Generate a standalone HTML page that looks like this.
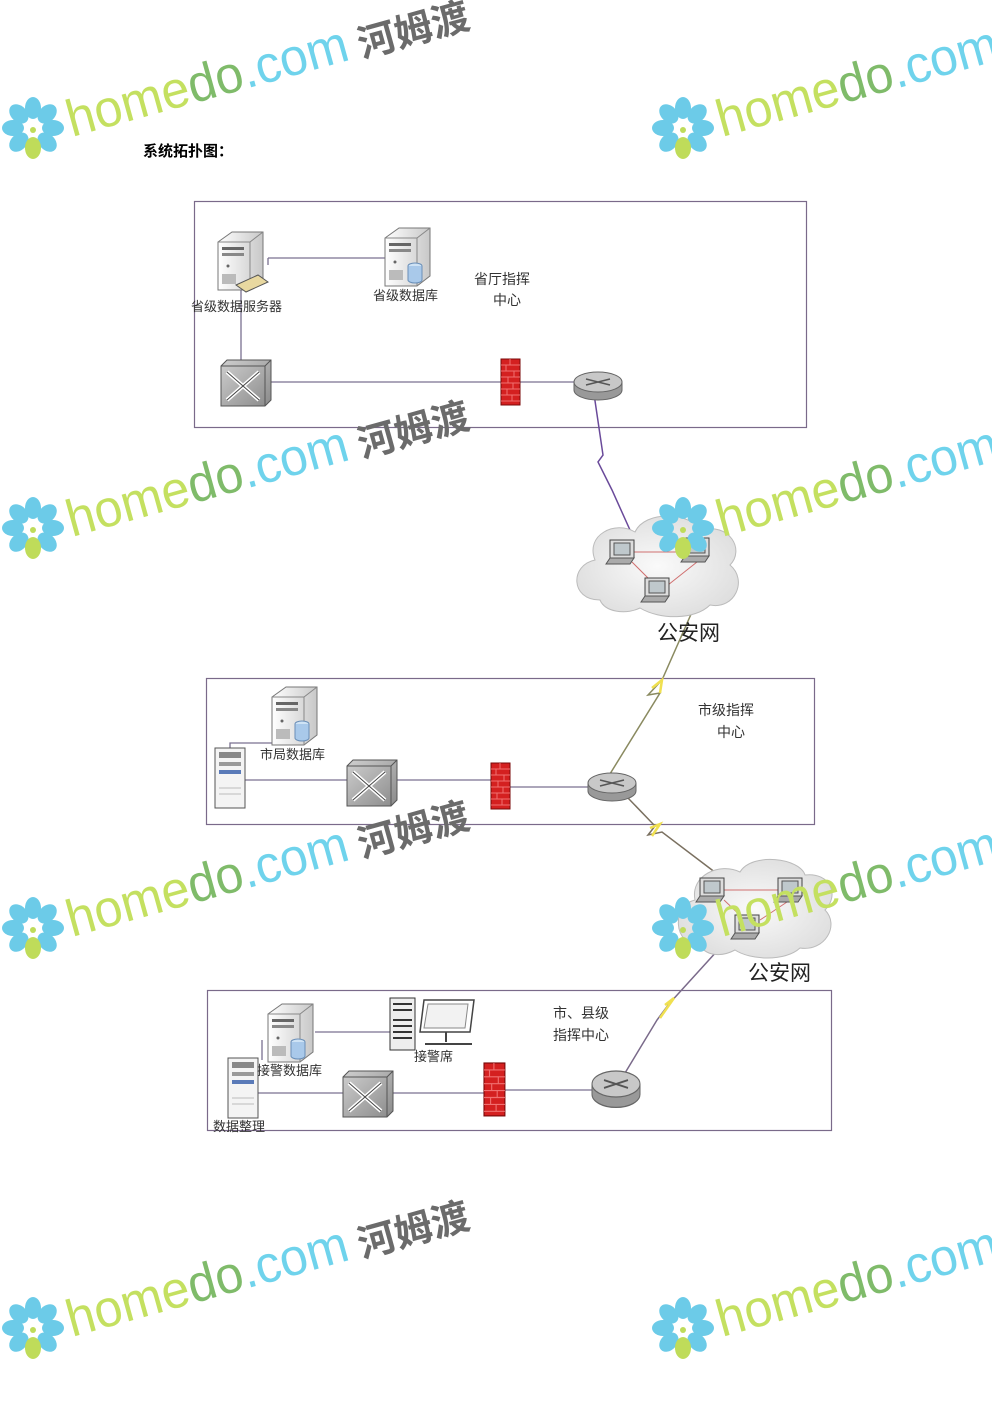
<!DOCTYPE html>
<html><head><meta charset="utf-8"><style>
html,body{margin:0;padding:0;background:#fff;}
svg{display:block;}
text{font-family:"Liberation Sans","Noto Sans CJK SC",sans-serif;}
</style></head><body>
<svg width="992" height="1403" viewBox="0 0 992 1403" xmlns="http://www.w3.org/2000/svg">
<defs>
  <linearGradient id="srv" x1="0" x2="1"><stop offset="0" stop-color="#fff"/><stop offset="1" stop-color="#c8c8c8"/></linearGradient>
  <linearGradient id="sw" x1="0" y1="0" x2="1" y2="1"><stop offset="0" stop-color="#cfcfcf"/><stop offset="1" stop-color="#8a8a8a"/></linearGradient>
  <radialGradient id="cl" cx="0.5" cy="0.5" r="0.6"><stop offset="0" stop-color="#fafafa"/><stop offset="1" stop-color="#dcdcdc"/></radialGradient>
  <g id="server">
    <path d="M0 10 L14 0 L45 0 L45 48 L32 58 L0 58 Z" fill="url(#srv)" stroke="#777" stroke-width="1"/>
    <path d="M0 10 L32 10 L45 0 M32 10 L32 58" fill="none" stroke="#888"/>
    <rect x="4" y="15" width="22" height="3" fill="#666"/>
    <rect x="4" y="21" width="22" height="3" fill="#888"/>
    <circle cx="10" cy="34" r="1.5" fill="#666"/>
    <rect x="4" y="42" width="14" height="10" fill="#bbb"/>
  </g>
  <g id="db">
    <ellipse cx="0" cy="0" rx="7" ry="3" fill="#cfe3f5" stroke="#6a8fb8"/>
    <path d="M-7 0 V14 A7 3 0 0 0 7 14 V0" fill="#a9c9ea" stroke="#6a8fb8"/>
  </g>
  <g id="switch">
    <path d="M0 6 L6 0 L50 0 L50 40 L44 46 L0 46 Z" fill="url(#sw)" stroke="#555"/>
    <path d="M0 6 L44 6 L50 0 M44 6 L44 46" fill="none" stroke="#555"/>
    <path d="M6 12 L38 40 M38 12 L6 40" stroke="#fff" stroke-width="4"/>
    <path d="M6 12 L38 40 M38 12 L6 40" stroke="#444" stroke-width="1"/>
  </g>
  <g id="fw">
    <rect x="0" y="0" width="19" height="46" fill="#d42020" stroke="#7a0a0a"/>
    <path d="M0 6H19M0 12H19M0 18H19M0 24H19M0 30H19M0 36H19M0 42H19" stroke="#f07070" stroke-width="1"/>
    <path d="M9 0V6M5 6V12M13 12V18M7 18V24M12 24V30M6 30V36M11 36V42" stroke="#f07070"/>
  </g>
  <g id="router">
    <path d="M-24 0 V8 A24 10 0 0 0 24 8 V0" fill="#999" stroke="#666"/>
    <ellipse cx="0" cy="0" rx="24" ry="10" fill="#c8c8c8" stroke="#666"/>
    <path d="M-12 -3 L12 3 M-12 3 L12 -3" stroke="#555" stroke-width="1.5"/>
  </g>
  <g id="laptop">
    <rect x="0" y="0" width="24" height="18" fill="#ddd" stroke="#444"/>
    <rect x="4" y="3" width="16" height="12" fill="#bfc8cc" stroke="#555"/>
    <path d="M-4 24 L0 18 L24 18 L20 24 Z" fill="#aaa" stroke="#555"/>
  </g>
  <g id="tower">
    <rect x="0" y="0" width="30" height="60" fill="#f4f4f4" stroke="#555"/>
    <rect x="4" y="4" width="22" height="6" fill="#888"/>
    <rect x="4" y="14" width="22" height="4" fill="#999"/>
    <rect x="4" y="22" width="22" height="4" fill="#5a7ab8"/>
    <path d="M4 40H26M4 46H26" stroke="#bbb"/>
  </g>
  <g id="flower">
    <g fill="#6ccbe8">
      <ellipse cx="0" cy="-20" rx="8" ry="11"/>
      <ellipse cx="0" cy="-20" rx="8" ry="11" transform="rotate(45)"/>
      <ellipse cx="0" cy="-20" rx="8" ry="11" transform="rotate(90)"/>
      <ellipse cx="0" cy="-20" rx="8" ry="11" transform="rotate(135)"/>
      <ellipse cx="0" cy="-20" rx="8" ry="11" transform="rotate(-45)"/>
      <ellipse cx="0" cy="-20" rx="8" ry="11" transform="rotate(-90)"/>
      <ellipse cx="0" cy="-20" rx="8" ry="11" transform="rotate(-135)"/>
    </g>
    <ellipse cx="0" cy="20" rx="8" ry="11" fill="#bfdc5a"/>
    <circle cx="0" cy="2" r="3" fill="#bfdc5a"/>
  </g>
  <g id="wmt">
    <use href="#flower" x="33" y="128"/>
    <text x="72" y="137" transform="rotate(-15.5 72 137)" font-size="52" textLength="290" lengthAdjust="spacingAndGlyphs"><tspan fill="#c4e060">home</tspan><tspan fill="#7fbb6a">do</tspan><tspan fill="#6fd3ec">.com</tspan></text>
  </g>
  <g id="wm">
    <use href="#wmt"/>
    <text x="362" y="58" transform="rotate(-15.5 362 58)" font-size="38" font-weight="bold" fill="#6b6b6b" font-family="'Noto Sans CJK SC',sans-serif">河姆渡</text>
  </g>
</defs>

<text x="143" y="156" font-size="15" font-weight="bold" font-family="'Liberation Serif','Noto Serif CJK SC',serif" fill="#000">系统拓扑图：</text>

<g fill="none" stroke-width="1.2">
<rect x="194.5" y="201.5" width="612" height="226" stroke="#7a6a8a"/>
<rect x="206.5" y="678.5" width="608" height="146" stroke="#7a6a8a"/>
<rect x="207.5" y="990.5" width="624" height="140" stroke="#7a6a8a"/>
</g>

<g stroke="#7a7090" stroke-width="1.3" fill="none">
<path d="M268 258 H386 M268 258 V265"/>
<path d="M241 290 V360"/>
<path d="M271 382 H502 M520 382 H576"/>
<path d="M230 748 V743 H272"/>
<path d="M245 780 H348 M394 780 H492 M510 787 H590"/>
<path d="M315 1032 H390"/>
<path d="M258 1093 H344 M390 1093 H485 M505 1090 H593"/>
<path d="M262 1040 V1060"/>
</g>

<g fill="none" stroke-width="1.5">
<path d="M594 394 L603 455 L598 462 L612 490 L630 530" stroke="#6a4a9a"/>
<path d="M692 612 L662 680 L648 695 L660 693 L605 782" stroke="#8a8a60"/>
<path d="M652 688 L662 680 L660 693" stroke="#f0e050" stroke-width="2.5"/>
<path d="M628 798 L655 826 L648 835 L662 832 L716 873" stroke="#7a7060"/>
<path d="M650 828 L660 824 L652 836" stroke="#f0e050" stroke-width="2.5"/>
<path d="M718 950 L668 1005 L672 1000 L657 1020 L622 1078" stroke="#7a6a8a"/>
<path d="M665 1005 L674 998 L660 1018" stroke="#f0e050" stroke-width="2.5"/>
</g>

<use href="#server" x="218" y="232"/>
<path d="M236 285 L258 275 L268 282 L246 292 Z" fill="#e8d8a0" stroke="#555"/>
<use href="#server" x="385" y="228"/>
<use href="#db" x="415" y="266"/>
<use href="#switch" x="221" y="360"/>
<use href="#fw" x="501" y="359"/>
<use href="#router" x="598" y="382"/>

<path d="M600 600 C570 600 570 565 595 560 C585 535 615 520 635 532 C645 510 690 512 700 530 C730 522 745 550 730 565 C748 580 735 610 710 605 C695 620 660 620 640 608 C625 615 605 612 600 600 Z" fill="url(#cl)" stroke="#bbb"/>
<g stroke="#d07070" stroke-width="1"><path d="M632 552 H697 M632 562 L655 585 M697 562 L668 585"/></g>
<use href="#laptop" x="610" y="540"/>
<use href="#laptop" x="685" y="538"/>
<use href="#laptop" x="645" y="578"/>
<text x="657" y="640" font-size="21" font-family="'Liberation Serif','Noto Serif CJK SC',serif" fill="#222">公安网</text>

<use href="#server" x="272" y="687"/>
<use href="#db" x="302" y="724"/>
<use href="#tower" x="215" y="748"/>
<use href="#switch" x="347" y="760"/>
<use href="#fw" x="491" y="763"/>
<use href="#router" x="612" y="783"/>

<path d="M700 945 C672 945 672 905 695 900 C690 875 720 862 740 872 C752 852 800 858 805 875 C830 872 840 895 825 910 C840 925 825 952 800 948 C785 962 750 960 735 950 C720 958 705 955 700 945 Z" fill="url(#cl)" stroke="#bbb"/>
<g stroke="#d07070"><path d="M724 890 H790 M724 900 L745 920 M790 900 L760 920"/></g>
<use href="#laptop" x="700" y="878"/>
<use href="#laptop" x="778" y="878"/>
<use href="#laptop" x="735" y="915"/>
<text x="748" y="980" font-size="21" font-family="'Liberation Serif','Noto Serif CJK SC',serif" fill="#222">公安网</text>

<use href="#server" x="268" y="1004"/>
<use href="#db" x="298" y="1042"/>
<rect x="390" y="998" width="25" height="52" fill="#eee" stroke="#333"/>
<path d="M393 1004H412M393 1010H412M393 1020H412M393 1026H412M393 1032H412M393 1038H412" stroke="#333" stroke-width="2"/>
<path d="M424 1000 L474 1000 L470 1032 L420 1032 Z" fill="#fff" stroke="#444" stroke-width="1.5"/>
<path d="M428 1004 L468 1004 L465 1028 L424 1028 Z" fill="#f2f2f2" stroke="#888"/>
<path d="M446 1032 V1042 M425 1044 H472" stroke="#444" stroke-width="2"/>
<use href="#tower" x="228" y="1058"/>
<use href="#switch" x="343" y="1071"/>
<use href="#fw" x="484" y="1063" transform="translate(484 1063) scale(1.1 1.15) translate(-484 -1063)"/>
<use href="#router" x="616" y="1084" transform="translate(616 1084) scale(1 1.3) translate(-616 -1084)"/>

<g font-size="13" fill="#333">
<text x="191" y="311">省级数据服务器</text>
<text x="373" y="300">省级数据库</text>
<text x="474" y="284" font-size="14">省厅指挥</text>
<text x="493" y="305" font-size="14">中心</text>
<text x="260" y="759">市局数据库</text>
<text x="698" y="715" font-size="14">市级指挥</text>
<text x="717" y="737" font-size="14">中心</text>
<text x="257" y="1075">接警数据库</text>
<text x="414" y="1061">接警席</text>
<text x="213" y="1131">数据整理</text>
<text x="553" y="1018" font-size="14">市、县级</text>
<text x="553" y="1040" font-size="14">指挥中心</text>
</g>

<use href="#wm" x="0" y="0"/>
<use href="#wm" x="0" y="400"/>
<use href="#wm" x="0" y="800"/>
<use href="#wm" x="0" y="1200"/>
<use href="#wmt" x="650" y="0"/>
<use href="#wmt" x="650" y="400"/>
<use href="#wmt" x="650" y="800"/>
<use href="#wmt" x="650" y="1200"/>
</svg>
</body></html>
